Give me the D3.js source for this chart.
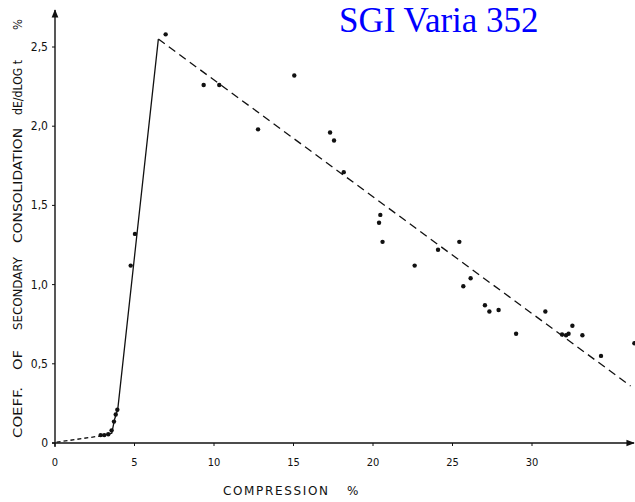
<!DOCTYPE html>
<html>
<head>
<meta charset="utf-8">
<title>SGI Varia 352</title>
<style>
  body { margin: 0; background: #fff; }
  svg { display: block; }
  .tick { font-family: "DejaVu Sans Condensed", "DejaVu Sans", sans-serif; fill: #111; }
  .lbl { font-family: "DejaVu Sans", sans-serif; fill: #111; }
</style>
</head>
<body>
<script src="https://cdn.jsdelivr.net/npm/d3@7"></script>
<script>
var width = 635, height = 502;

// measured points: compression %, coefficient dE/dlog t %
var compression = [2.87, 3.1, 3.35, 3.56, 3.71, 3.82, 3.92, 4.76, 5.03, 6.96,
  9.35, 10.33, 12.77, 15.05, 17.3, 17.55, 18.16, 20.38, 20.46, 20.6,
  22.62, 24.09, 25.43, 25.68, 26.14, 27.04, 27.32, 27.9, 29.0, 30.84,
  31.89, 32.14, 32.3, 32.54, 33.17, 34.34, 36.44];
var coeff = [0.05, 0.05, 0.055, 0.08, 0.135, 0.18, 0.21, 1.12, 1.32, 2.58,
  2.26, 2.26, 1.98, 2.32, 1.96, 1.91, 1.71, 1.39, 1.44, 1.27,
  1.12, 1.22, 1.27, 0.99, 1.04, 0.87, 0.83, 0.84, 0.69, 0.83,
  0.685, 0.68, 0.69, 0.74, 0.68, 0.55, 0.63];

// fitted curves
var startX = [0.1, 2.9];
var startY = [0.005, 0.045];
var riseX = [2.9, 3.57, 3.75, 3.95, 6.5];
var riseY = [0.045, 0.062, 0.15, 0.215, 2.55];
var fallX = [6.5, 36.2];
var fallY = [2.55, 0.36];

var xTicks = [0, 5, 10, 15, 20, 25, 30];
var yTicks = [0, 0.5, 1.0, 1.5, 2.0, 2.5];

var x = d3.scaleLinear().domain([0, 30]).range([55, 532]);
var y = d3.scaleLinear().domain([0, 2.5]).range([443, 47]);

var svg = d3.select("body").append("svg")
    .attr("width", width)
    .attr("height", height);

var ink = "#111";

svg.append("defs").append("marker")
    .attr("id", "arrow")
    .attr("viewBox", "0 0 10 10")
    .attr("refX", 9).attr("refY", 5)
    .attr("markerWidth", 6).attr("markerHeight", 6)
    .attr("orient", "auto")
    .append("path")
    .attr("d", "M0,1 L10,5 L0,9 Z")
    .attr("fill", ink);

// axes
svg.append("line")
    .attr("x1", x(0)).attr("y1", y(0) + 4)
    .attr("x2", x(0)).attr("y2", 10)
    .attr("stroke", ink).attr("stroke-width", 1.4)
    .attr("marker-end", "url(#arrow)");
svg.append("line")
    .attr("x1", x(0) - 3).attr("y1", y(0))
    .attr("x2", 634).attr("y2", y(0))
    .attr("stroke", ink).attr("stroke-width", 1.4)
    .attr("marker-end", "url(#arrow)");

svg.selectAll(".yt").data(yTicks).enter().append("line")
    .attr("x1", x(0) - 3).attr("x2", x(0))
    .attr("y1", function (d) { return y(d); })
    .attr("y2", function (d) { return y(d); })
    .attr("stroke", ink).attr("stroke-width", 1);
svg.selectAll(".xt").data(xTicks).enter().append("line")
    .attr("x1", function (d) { return x(d); })
    .attr("x2", function (d) { return x(d); })
    .attr("y1", y(0)).attr("y2", y(0) + 3)
    .attr("stroke", ink).attr("stroke-width", 1);

var fmt = function (d) { return d === 0 ? "0" : d3.format(".1f")(d).replace(".", ","); };

svg.selectAll(".ylab").data(yTicks).enter().append("text")
    .attr("class", "tick")
    .attr("x", 48)
    .attr("y", function (d) { return y(d) + 4; })
    .attr("text-anchor", "end")
    .style("font-size", "12px")
    .text(fmt);

svg.selectAll(".xlab").data(xTicks).enter().append("text")
    .attr("class", "tick")
    .attr("x", function (d) { return x(d); })
    .attr("y", 466)
    .attr("text-anchor", "middle")
    .style("font-size", "11px")
    .text(function (d) { return d; });

// axis titles
var yTitle = [
    { t: "COEFF.", a: 438, b: 387 },
    { t: "OF", a: 370, b: 350 },
    { t: "SECONDARY", a: 330, b: 257 },
    { t: "CONSOLIDATION", a: 243, b: 128 },
    { t: "dE/dLOG t", a: 115, b: 60 },
    { t: "%", a: 30, b: 19 }
];
yTitle.forEach(function (w) {
    svg.append("text")
        .attr("class", "lbl")
        .attr("transform", "translate(22," + w.a + ") rotate(-90)")
        .style("font-size", "12.5px")
        .attr("textLength", w.a - w.b)
        .attr("lengthAdjust", "spacingAndGlyphs")
        .text(w.t);
});

svg.append("text")
    .attr("class", "lbl")
    .attr("x", 223).attr("y", 495)
    .style("font-size", "12px")
    .attr("textLength", 105)
    .attr("lengthAdjust", "spacing")
    .text("COMPRESSION");
svg.append("text")
    .attr("class", "lbl")
    .attr("x", 347).attr("y", 495)
    .style("font-size", "12px")
    .text("%");

// curves
var line = d3.line()
    .x(function (d) { return x(d[0]); })
    .y(function (d) { return y(d[1]); });

svg.append("path")
    .attr("d", line(d3.zip(startX, startY)))
    .attr("fill", "none").attr("stroke", ink).attr("stroke-width", 1.3)
    .attr("stroke-dasharray", "4,3");
svg.append("path")
    .attr("d", line(d3.zip(riseX, riseY)))
    .attr("fill", "none").attr("stroke", ink).attr("stroke-width", 1.3);
svg.append("path")
    .attr("d", line(d3.zip(fallX, fallY)))
    .attr("fill", "none").attr("stroke", ink).attr("stroke-width", 1.3)
    .attr("stroke-dasharray", "8,5");

// points
svg.selectAll(".pt").data(d3.zip(compression, coeff)).enter().append("circle")
    .attr("cx", function (d) { return x(d[0]); })
    .attr("cy", function (d) { return y(d[1]); })
    .attr("r", 2.2)
    .attr("fill", ink);

// title
svg.append("text")
    .attr("x", 339).attr("y", 32)
    .style("font-family", "'Liberation Serif', 'Times New Roman', serif")
    .style("font-size", "35px")
    .attr("fill", "#0000ff")
    .text("SGI Varia 352");
</script>
</body>
</html>
